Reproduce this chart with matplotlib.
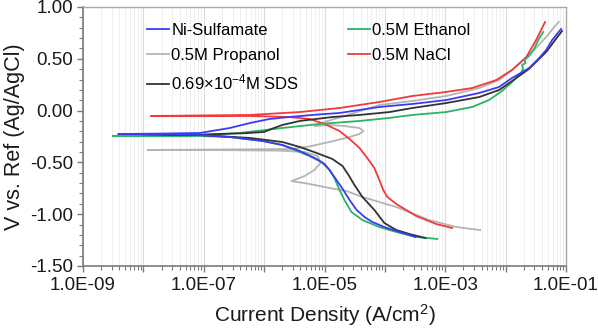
import numpy as np
import matplotlib.pyplot as plt
from matplotlib.ticker import LogLocator, MultipleLocator, FuncFormatter, NullFormatter

plt.rcParams['font.family'] = ['Liberation Sans', 'DejaVu Sans']
plt.rcParams['mathtext.fontset'] = 'custom'
plt.rcParams['mathtext.rm'] = 'Liberation Sans'
plt.rcParams['mathtext.it'] = 'Liberation Sans:italic'

# Tafel scans, cathodic end -> Ecorr -> anodic end
# current density (A/cm2), potential (V vs Ag/AgCl)
i_nis = [3.2e-4, 1.55e-4, 9.8e-5, 6.2e-5, 4.6e-5, 3.4e-5, 2.6e-5, 2.0e-5, 1.58e-5, 1.21e-5,
         1.0e-5, 7.4e-6, 3.9e-6, 2.0e-6, 9.4e-7, 2.7e-7, 8.6e-8, 1.9e-8, 3.8e-9,
         1.9e-8, 8.6e-8, 2.7e-7, 5.8e-7, 1.23e-6, 2.6e-6, 6.3e-6, 1.77e-5, 8.1e-5, 2.85e-4,
         1.04e-3, 3.65e-3, 7.8e-3, 1.28e-2, 2.44e-2, 3.6e-2, 4.7e-2, 5.9e-2, 8.3e-2]
v_nis = [-1.220, -1.162, -1.124, -1.075, -1.027, -0.959, -0.863, -0.757, -0.670, -0.573,
         -0.515, -0.467, -0.390, -0.332, -0.293, -0.255, -0.236, -0.228, -0.226,
         -0.222, -0.216, -0.168, -0.120, -0.081, -0.062, -0.042, -0.023, 0.035, 0.064,
         0.102, 0.170, 0.228, 0.315, 0.410, 0.508, 0.585, 0.681, 0.788]

i_eth = [7.4e-4, 3.3e-4, 1.55e-4, 8.1e-5, 4.25e-5, 2.8e-5, 2.14e-5, 1.77e-5, 1.46e-5, 1.21e-5,
         8.9e-6, 5.6e-6, 3.2e-6, 2.0e-6, 9.4e-7, 2.7e-7, 8.6e-8, 1.28e-8, 3.1e-9,
         1.28e-8, 8.6e-8, 3.9e-7, 2.0e-6, 8.3e-6, 3.8e-5, 1.19e-4, 2.85e-4, 1.04e-3, 2.8e-3,
         5.3e-3, 8.7e-3, 1.28e-2, 1.8e-2, 1.95e-2, 1.87e-2, 2.14e-2, 2.06e-2, 2.44e-2, 2.96e-2,
         3.3e-2, 3.7e-2, 4.2e-2]
v_eth = [-1.239, -1.220, -1.172, -1.124, -1.056, -0.979, -0.863, -0.766, -0.651, -0.573,
         -0.496, -0.438, -0.380, -0.332, -0.293, -0.255, -0.245, -0.245, -0.245,
         -0.241, -0.236, -0.216, -0.168, -0.129, -0.100, -0.071, -0.042, -0.014, 0.035,
         0.102, 0.189, 0.276, 0.363, 0.402, 0.440, 0.459, 0.488, 0.527, 0.595,
         0.653, 0.710, 0.759]

i_prop = [3.8e-3, 1.52e-3, 5.4e-4, 1.55e-4, 8.1e-5, 4.25e-5, 2.3e-5, 1.21e-5, 5.6e-6, 2.85e-6,
          4.7e-6, 6.8e-6, 8.6e-6, 7.7e-6, 4.7e-6, 1.8e-6, 8.6e-8, 1.18e-8,
          8.6e-8, 2.6e-6, 5.1e-6, 1.21e-5, 2.6e-5, 3.8e-5, 4.4e-5, 3.8e-5, 2.14e-5, 1.21e-5, 6.8e-6,
          1.0e-5, 2.14e-5, 8.1e-5, 2.85e-4, 1.04e-3, 3.65e-3, 7.8e-3, 1.28e-2, 2.44e-2, 4.7e-2,
          6.8e-2, 7.6e-2]
v_prop = [-1.153, -1.124, -1.056, -0.931, -0.882, -0.834, -0.776, -0.747, -0.708, -0.680,
          -0.631, -0.573, -0.506, -0.438, -0.400, -0.386, -0.380, -0.380,
          -0.377, -0.371, -0.351, -0.303, -0.255, -0.226, -0.197, -0.168, -0.149, -0.139, -0.149,
          -0.110, -0.052, 0.054, 0.093, 0.141, 0.218, 0.295, 0.392, 0.537, 0.710,
          0.826, 0.855]

i_nacl = [1.3e-3, 7.1e-4, 3.3e-4, 1.55e-4, 1.1e-4, 9.4e-5, 8.1e-5, 6.7e-5, 5.1e-5, 3.8e-5,
          2.6e-5, 1.77e-5, 1.0e-5, 5.6e-6, 2.6e-6, 5.8e-7, 8.6e-8, 1.33e-8,
          8.6e-8, 5.8e-7, 3.9e-6, 1.77e-5, 8.1e-5, 2.85e-4, 1.04e-3, 2.8e-3, 7.0e-3, 1.28e-2,
          2.2e-2, 3.2e-2, 4.5e-2]
v_nacl = [-1.133, -1.095, -1.017, -0.902, -0.834, -0.766, -0.670, -0.554, -0.457, -0.361,
          -0.274, -0.197, -0.129, -0.081, -0.062, -0.052, -0.052, -0.052,
          -0.047, -0.042, -0.014, 0.025, 0.083, 0.141, 0.180, 0.218, 0.295, 0.392,
          0.517, 0.681, 0.855]

i_sds = [4.7e-4, 2.54e-4, 1.55e-4, 9.8e-5, 6.7e-5, 4.25e-5, 3.13e-5, 2.5e-5, 1.99e-5, 1.35e-5,
         7.4e-6, 3.9e-6, 2.0e-6, 5.8e-7, 8.6e-8, 9.4e-9,
         8.6e-8, 5.0e-7, 1.0e-6, 1.35e-6, 2.0e-6, 3.9e-6, 1.35e-5, 3.8e-5, 1.19e-4, 2.85e-4,
         1.04e-3, 3.65e-3, 7.8e-3, 1.28e-2, 2.44e-2, 4.7e-2, 6.8e-2, 8.6e-2]
v_sds = [-1.230, -1.191, -1.153, -1.085, -0.959, -0.834, -0.718, -0.622, -0.535, -0.467,
         -0.409, -0.351, -0.303, -0.264, -0.236, -0.228,
         -0.232, -0.218, -0.206, -0.175, -0.139, -0.100, -0.062, -0.042, -0.014, 0.025,
         0.073, 0.131, 0.199, 0.286, 0.402, 0.566, 0.691, 0.768]

series = [
    (i_nis, v_nis, 'Ni-Sulfamate', '#3b3bf5'),
    (i_prop, v_prop, '0.5M Propanol', '#b4b4b4'),
    (i_sds, v_sds, '0.69\u00d710$^{-4}$M SDS', '#333333'),
    (i_eth, v_eth, '0.5M Ethanol', '#2bb366'),
    (i_nacl, v_nacl, '0.5M NaCl', '#f23a3a'),
]

fig = plt.figure(figsize=(5.98, 3.36), dpi=100)
ax = fig.add_axes([83 / 598, 1 - 266 / 336, 483 / 598, 259 / 336])

# draw order: grey underneath, then the rest
draw_order = [1, 4, 3, 2, 0]
lines = {}
for k in draw_order:
    i, v, name, col = series[k]
    ln, = ax.plot(i, v, color=col, lw=1.3, label=name, solid_joinstyle='round')
    lines[k] = ln

ax.set_xscale('log')
ax.set_xlim(1e-9, 1e-1)
ax.set_ylim(-1.5, 1.0)

def sci_fmt(val, pos):
    e = int(round(np.log10(val)))
    if e % 2 == 0:
        return ''
    return '1.0E%s%02d' % ('-' if e < 0 else '+', abs(e))

ax.xaxis.set_major_locator(LogLocator(base=10, numticks=20))
ax.xaxis.set_minor_locator(LogLocator(base=10, subs=np.arange(2, 10), numticks=20))
ax.xaxis.set_major_formatter(FuncFormatter(sci_fmt))
ax.xaxis.set_minor_formatter(NullFormatter())
ax.yaxis.set_major_locator(MultipleLocator(0.5))
ax.yaxis.set_minor_locator(MultipleLocator(0.1))
ax.yaxis.set_major_formatter(FuncFormatter(lambda v, p: '%.2f' % v))

ax.grid(True, which='major', axis='x', color='#dcdcdc', lw=0.8)
ax.grid(True, which='minor', axis='x', color='#efefef', lw=0.7)
ax.set_axisbelow(True)

ax.tick_params(which='both', direction='out', color='#7a7a7a', labelcolor='#1a1a1a',
               labelsize=13.5, top=False, right=False)
ax.tick_params(which='major', length=4, width=1)
ax.tick_params(which='minor', length=3, width=0.8)
ax.tick_params(axis='x', pad=4)
ax.tick_params(axis='y', pad=3)

for s in ['left', 'bottom']:
    ax.spines[s].set_color('#7a7a7a')
    ax.spines[s].set_linewidth(1.2)
for s in ['top', 'right']:
    ax.spines[s].set_color('#a8a8a8')
    ax.spines[s].set_linewidth(1.0)

ax.set_xlabel('Current Density (A/cm$^2$)', fontsize=15, color='#1a1a1a', labelpad=6)
ax.set_ylabel('V vs. Ref (Ag/AgCl)', fontsize=15.5, color='#1a1a1a', labelpad=4)

handles = [lines[k] for k in range(5)]
labels = [series[k][2] for k in range(5)]
ax.legend(handles, labels, ncol=2, loc='upper left', bbox_to_anchor=(0.119, 0.965),
          frameon=False, fontsize=12, handlelength=1.3, handletextpad=0.15,
          columnspacing=2.9, labelspacing=0.6, borderaxespad=0)

fig.savefig('out.png', dpi=100)
